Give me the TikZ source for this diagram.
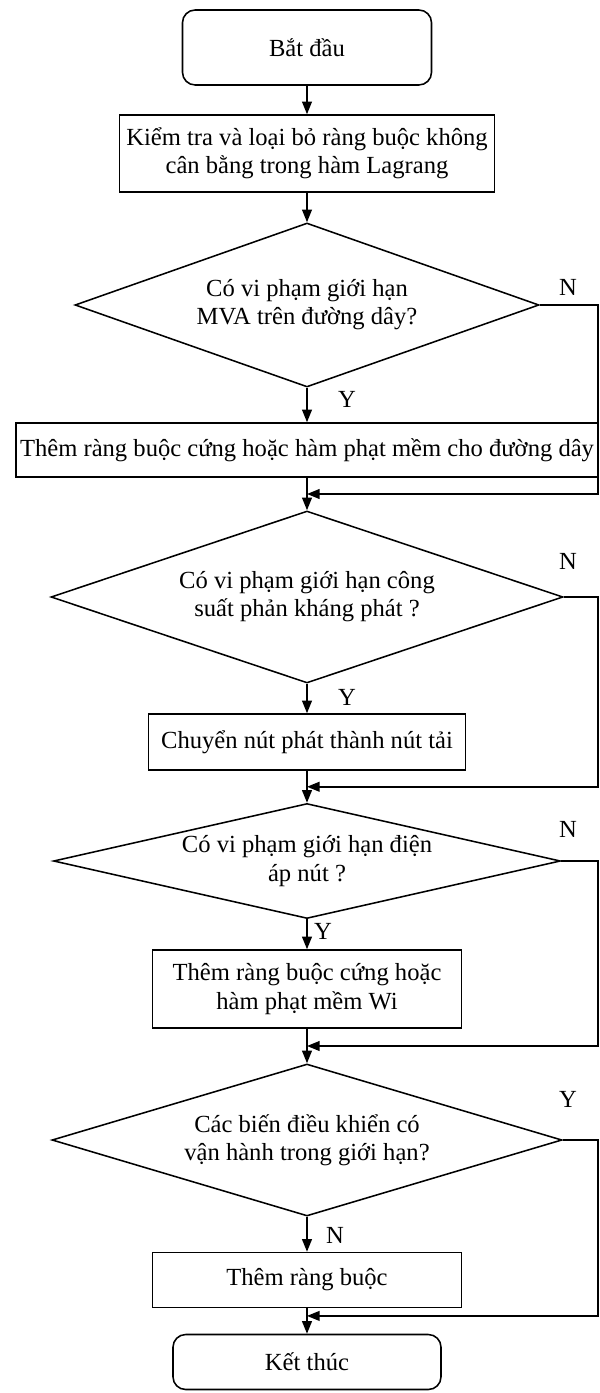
\documentclass[tikz,border=0pt]{standalone}
\usepackage{fontspec}
\setmainfont{Liberation Serif}
\usetikzlibrary{shapes.geometric, positioning, calc, arrows.meta}

\begin{document}
\begin{tikzpicture}[>={Triangle[length=9pt,width=7pt]}, line width=1.1pt, font=\fontsize{17.5}{20}\selectfont]
    \tikzstyle{term}=[draw, rectangle, rounded corners=9pt, minimum height=1.375cm];
    \tikzstyle{proc}=[draw, rectangle, align=center, inner xsep=2pt];
    \tikzstyle{dec}=[draw, diamond, aspect=4, inner sep=0pt, align=center];
    \useasboundingbox (-7.675,1.1875) rectangle (7.3,-33.6375);
    \coordinate (rx) at (7.275,0);

    \node[term, minimum width=6.225cm, minimum height=1.875cm] (start) {Bắt đầu};
    \node[proc, node distance=2.65cm, below of=start, minimum width=9.375cm, minimum height=1.925cm] (check) {Kiểm tra và loại bỏ ràng buộc không\\cân bằng trong hàm Lagrang};
    \node[dec, node distance=3.7875cm, below of=check, minimum width=11.6cm, minimum height=4.1cm] (mva) {Có vi phạm giới hạn\\MVA trên đường dây?};
    \node[proc, node distance=3.625cm, below of=mva, minimum width=14.55cm, minimum height=1.35cm] (hard) {Thêm ràng buộc cứng hoặc hàm phạt mềm cho đường dây};
    \node[dec, node distance=3.675cm, below of=hard, minimum width=12.8cm, minimum height=4.3cm] (react) {Có vi phạm giới hạn công\\suất phản kháng phát ?};
    \node[proc, node distance=3.625cm, below of=react, minimum width=7.925cm, minimum height=1.4cm] (conv) {Chuyển nút phát thành nút tải};
    \node[dec, node distance=2.975cm, below of=conv, minimum width=12.675cm, minimum height=2.875cm] (volt) {Có vi phạm giới hạn điện\\áp nút ?};
    \node[proc, node distance=3.2cm, below of=volt, minimum width=7.725cm, minimum height=1.95cm] (soft) {Thêm ràng buộc cứng hoặc\\hàm phạt mềm Wi};
    \node[dec, node distance=3.775cm, below of=soft, minimum width=12.75cm, minimum height=3.8cm] (ctrl) {Các biến điều khiển có\\vận hành trong giới hạn?};
    \node[proc, node distance=3.5cm, below of=ctrl, minimum width=7.725cm, minimum height=1.375cm] (add) {Thêm ràng buộc};
    \node[term, node distance=2.05cm, below of=add, minimum width=6.7cm] (stop) {Kết thúc};

    % merge points on the main line
    \coordinate (m1) at ($(hard.south)!0.5!(react.north)$);
    \coordinate (m2) at ($(conv.south)!0.5!(volt.north)$);
    \coordinate (m3) at ($(soft.south)!0.5!(ctrl.north)$);
    \coordinate (m4) at ($(add.south)!0.3!(stop.north)$);

    \node (n1) at (6.525,-5.99) {N};
    \node (y1) at (1.0,-8.81) {Y};
    \node (n2) at (6.525,-12.86) {N};
    \node (y2) at (1.0,-16.26) {Y};
    \node (n3) at (6.525,-19.56) {N};
    \node (y3) at (0.4,-22.11) {Y};
    \node (y4) at (6.525,-26.31) {Y};
    \node (n4) at (0.7,-29.69) {N};

    \path[->]
    (start) edge (check)
    (check) edge (mva)
    (mva) edge (hard)
    (hard) edge (react)
    (react) edge (conv)
    (conv) edge (volt)
    (volt) edge (soft)
    (soft) edge (ctrl)
    (ctrl) edge (add)
    (add) edge (stop);

    \draw[->] (mva.east) -- (mva.east -| rx) |- (m1);
    \draw[->] (react.east) -- (react.east -| rx) |- (m2);
    \draw[->] (volt.east) -- (volt.east -| rx) |- (m3);
    \draw[->] (ctrl.east) -- (ctrl.east -| rx) |- (m4);
\end{tikzpicture}
\end{document}
